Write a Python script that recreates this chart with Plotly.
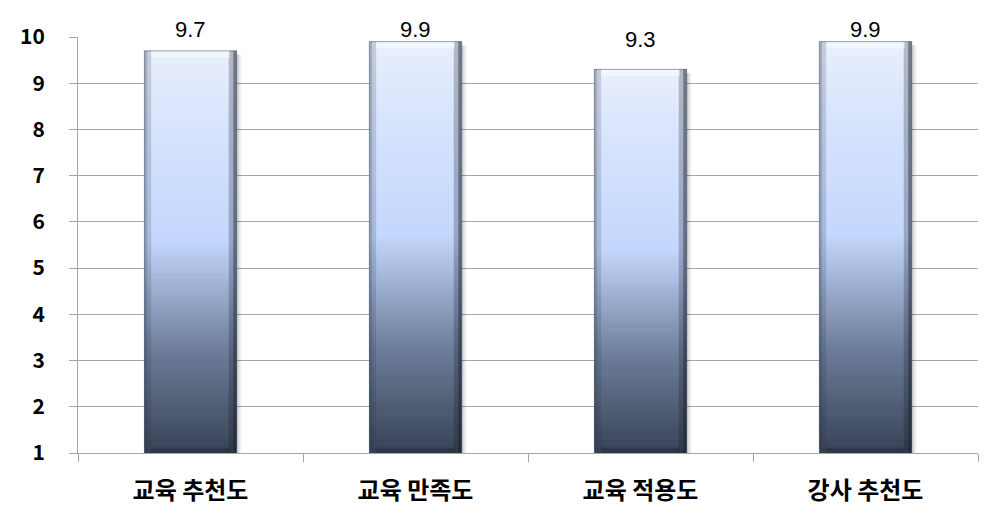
import numpy as np
import plotly.graph_objects as go

# Survey scores per item
categories = ['교육 추천도', '교육 만족도', '교육 적용도', '강사 추천도']
scores = [9.7, 9.9, 9.3, 9.9]
y_ticks = list(range(1, 11))

base_val = 1
bar_w = 0.41
n_slices = 90
px_per_unit = 420 / 9  # plot height / y span, for label offsets

# vertical gradient: bottom dark slate -> light blue -> pale top
grad_stops = [(0.0, (56, 67, 86)), (0.25, (108, 124, 153)), (0.53, (196, 215, 252)),
              (0.8, (214, 227, 252)), (1.0, (232, 239, 252))]


def grad_color(t):
    for (t0, c0), (t1, c1) in zip(grad_stops[:-1], grad_stops[1:]):
        if t0 <= t <= t1:
            f = (t - t0) / (t1 - t0)
            c = [round(a + (b - a) * f) for a, b in zip(c0, c1)]
            return f"rgb({c[0]},{c[1]},{c[2]})"
    return "rgb(232,239,252)"


fig = go.Figure()
heights = np.array(scores) - base_val

# soft shadow to the right of each bar
for dx, a in [(0.022, 0.05), (0.014, 0.07), (0.007, 0.09)]:
    fig.add_trace(go.Bar(
        x=categories, y=heights - 0.08, base=base_val,
        width=bar_w, offset=-bar_w / 2 + dx,
        marker=dict(color=f'rgba(0,0,0,{a})', line=dict(width=0)),
        hoverinfo='skip', showlegend=False))

# gradient body built from thin stacked slices
for k in range(n_slices):
    t = (k + 0.5) / n_slices
    top_cap = np.minimum(heights / n_slices * 1.8, heights * (1 - k / n_slices))
    fig.add_trace(go.Bar(
        x=categories, y=top_cap, base=base_val + heights * k / n_slices,
        width=bar_w, marker=dict(color=grad_color(t), line=dict(width=0)),
        hoverinfo='skip', showlegend=False))

# bevel edges
for off, w, col in [(-bar_w / 2, 0.03, 'rgba(40,50,70,0.18)'), (-bar_w / 2, 0.012, 'rgba(40,50,70,0.2)'),
                    (bar_w / 2 - 0.035, 0.035, 'rgba(20,25,35,0.25)'), (bar_w / 2 - 0.015, 0.015, 'rgba(20,25,35,0.4)')]:
    fig.add_trace(go.Bar(
        x=categories, y=heights, base=base_val, width=w, offset=off,
        marker=dict(color=col, line=dict(width=0)),
        hoverinfo='skip', showlegend=False))
fig.add_trace(go.Bar(
    x=categories, y=[0.15] * len(scores), base=[s - 0.15 for s in scores], width=bar_w - 0.06,
    marker=dict(color='rgba(255,255,255,0.45)', line=dict(width=0)),
    hoverinfo='skip', showlegend=False))
fig.add_trace(go.Bar(
    x=categories, y=[0.12] * len(scores), base=base_val, width=bar_w - 0.06,
    marker=dict(color='rgba(20,25,40,0.3)', line=dict(width=0)),
    hoverinfo='skip', showlegend=False))
fig.add_trace(go.Bar(
    x=categories, y=heights, base=base_val, width=bar_w,
    marker=dict(color='rgba(0,0,0,0)', line=dict(color='rgba(60,70,90,0.5)', width=1)),
    hoverinfo='skip', showlegend=False))

for cat, s in zip(categories, scores):
    lift = min(s + 0.64, 10.15) - 10
    fig.add_annotation(x=cat, y=10, yshift=lift * px_per_unit, text=f"{s:.1f}", showarrow=False,
                       font=dict(size=22, color='black', family='Liberation Sans, Arial'))

fig.update_layout(
    width=1005, height=529, barmode='overlay',
    plot_bgcolor='white', paper_bgcolor='white',
    margin=dict(l=70, r=35, t=25, b=84),
    font=dict(family='Noto Sans CJK KR', color='black'),
)
fig.update_yaxes(range=[1, 10], tickvals=y_ticks, showgrid=True, gridcolor='#a6a6a6', gridwidth=1,
                 showline=True, linecolor='#a6a6a6', ticks='outside', ticklen=8, tickcolor='#a6a6a6',
                 ticklabelstandoff=20,
                 tickfont=dict(size=21, family='Noto Sans CJK KR', weight='bold'), zeroline=False)
fig.update_xaxes(showline=True, linecolor='#a6a6a6', ticks='outside', ticklen=8, tickcolor='#a6a6a6',
                 tickson='boundaries', showgrid=False, ticklabelstandoff=16,
                 tickfont=dict(size=24, family='Noto Sans CJK KR', weight='bold'))

fig.write_html("out.html")
